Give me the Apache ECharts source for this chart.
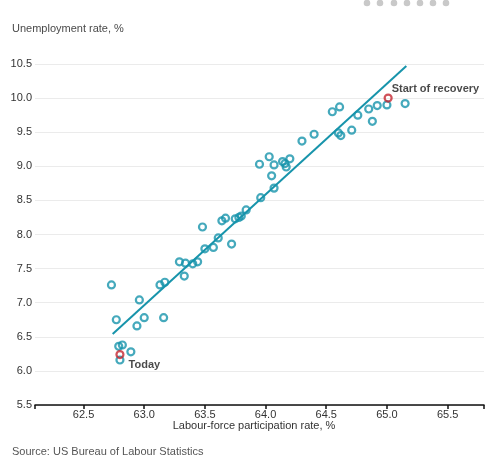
<!DOCTYPE html>
<html>
<head>
<meta charset="utf-8">
<script src="https://cdn.jsdelivr.net/npm/echarts@6/dist/echarts.min.js"></script>
<style>
html,body{margin:0;padding:0;background:#fff;}
#chart{width:500px;height:465px;}
</style>
</head>
<body>
<div id="chart"></div>
<script>
// Labour-force participation rate, %
const participation = [
  62.73, 62.77, 62.79, 62.82, 62.89, 62.80, 62.96, 62.94, 63.00, 63.13,
  63.17, 63.16, 63.29, 63.34, 63.33, 63.40, 63.44, 63.50, 63.57, 63.72,
  63.48, 63.61, 63.64, 63.67, 63.75, 63.78, 63.80, 63.84, 63.96, 64.07,
  64.05, 63.95, 64.03, 64.07, 64.14, 64.16, 64.17, 64.20, 64.30, 64.40,
  64.55, 64.61, 64.60, 64.62, 64.71, 64.76, 64.85, 64.88, 64.92, 65.00,
  65.15
];
// Unemployment rate, %
const unemployment = [
  7.26, 6.75, 6.36, 6.38, 6.28, 6.16, 7.04, 6.66, 6.78, 7.26,
  7.30, 6.78, 7.60, 7.58, 7.39, 7.57, 7.60, 7.79, 7.81, 7.86,
  8.11, 7.95, 8.20, 8.24, 8.23, 8.25, 8.27, 8.36, 8.54, 8.68,
  8.86, 9.03, 9.14, 9.02, 9.07, 9.04, 8.99, 9.11, 9.37, 9.47,
  9.80, 9.87, 9.49, 9.45, 9.53, 9.75, 9.84, 9.66, 9.89, 9.90,
  9.92
];
// Highlighted points
const highlightLabels = ['Today', 'Start of recovery'];
const highlightX = [62.80, 65.01];
const highlightY = [6.24, 10.00];
// Trend line end points
const trendX = [62.74, 65.16];
const trendY = [6.54, 10.47];
// Axis ticks
const xTickLabels = [62.5, 63.0, 63.5, 64.0, 64.5, 65.0, 65.5];
const xTickMarks = [62.1, 62.5, 63.0, 63.5, 64.0, 64.5, 65.0, 65.5, 65.8];

const TEAL = '#1794ab';
const RED = '#c4262f';
const FONT = '"Liberation Sans", Arial, sans-serif';

const chart = echarts.init(document.getElementById('chart'), null, {renderer: 'canvas'});

const option = {
  animation: false,
  backgroundColor: '#fff',
  textStyle: {fontFamily: FONT},
  grid: {left: 35, right: 16, top: 64, bottom: 60, containLabel: false},
  xAxis: {
    type: 'value',
    min: 62.1,
    max: 65.8,
    axisLine: {show: true, lineStyle: {color: '#111', width: 1.5}},
    axisTick: {show: true, length: 4, customValues: xTickMarks, lineStyle: {color: '#111', width: 1.5}},
    axisLabel: {
      customValues: xTickLabels,
      color: '#333', fontSize: 11, fontFamily: FONT, margin: 4,
      formatter: v => v.toFixed(1)
    },
    splitLine: {show: false}
  },
  yAxis: {
    type: 'value',
    min: 5.5,
    max: 10.5,
    interval: 0.5,
    axisLine: {show: false},
    axisTick: {show: false},
    axisLabel: {
      color: '#333', fontSize: 11, fontFamily: FONT, margin: 3,
      formatter: v => v.toFixed(1)
    },
    splitLine: {show: true, lineStyle: {color: '#ebebeb', width: 1}}
  },
  graphic: [
    {type: 'text', left: 12, top: 23, style: {text: 'Unemployment rate, %', fill: '#4a4a4a', font: '11px ' + FONT}},
    {type: 'text', left: 12, top: 446, style: {text: 'Source: US Bureau of Labour Statistics', fill: '#555', font: '11px ' + FONT}},
    {type: 'text', x: 254, y: 426, style: {text: 'Labour-force participation rate, %', fill: '#333', font: '11px ' + FONT, align: 'center', verticalAlign: 'middle'}},
    ...[367, 380, 394, 407, 420, 433, 446].map(cx => ({
      type: 'circle', shape: {cx: cx, cy: 3, r: 3.3}, style: {fill: '#c9c9c9'}
    }))
  ],
  series: [
    {
      type: 'line',
      data: trendX.map((x, i) => [x, trendY[i]]),
      symbol: 'none',
      lineStyle: {color: TEAL, width: 2},
      z: 2
    },
    {
      type: 'scatter',
      data: participation.map((x, i) => [x, unemployment[i]]),
      symbol: 'circle',
      symbolSize: 7,
      itemStyle: {color: 'rgba(255,255,255,0)', borderColor: TEAL, borderWidth: 2.2},
      z: 3
    },
    {
      type: 'scatter',
      data: highlightX.map((x, i) => ({
        value: [x, highlightY[i]],
        label: {
          show: true,
          formatter: highlightLabels[i],
          position: 'right',
          offset: i === 0 ? [-1, 10] : [-6, -9]
        }
      })),
      symbol: 'circle',
      symbolSize: 7,
      itemStyle: {color: 'rgba(255,255,255,0)', borderColor: RED, borderWidth: 2.2},
      label: {color: '#1a1a1a', fontSize: 11, fontWeight: 'bold', fontFamily: FONT},
      z: 4
    }
  ]
};
chart.setOption(option);
</script>
</body>
</html>
